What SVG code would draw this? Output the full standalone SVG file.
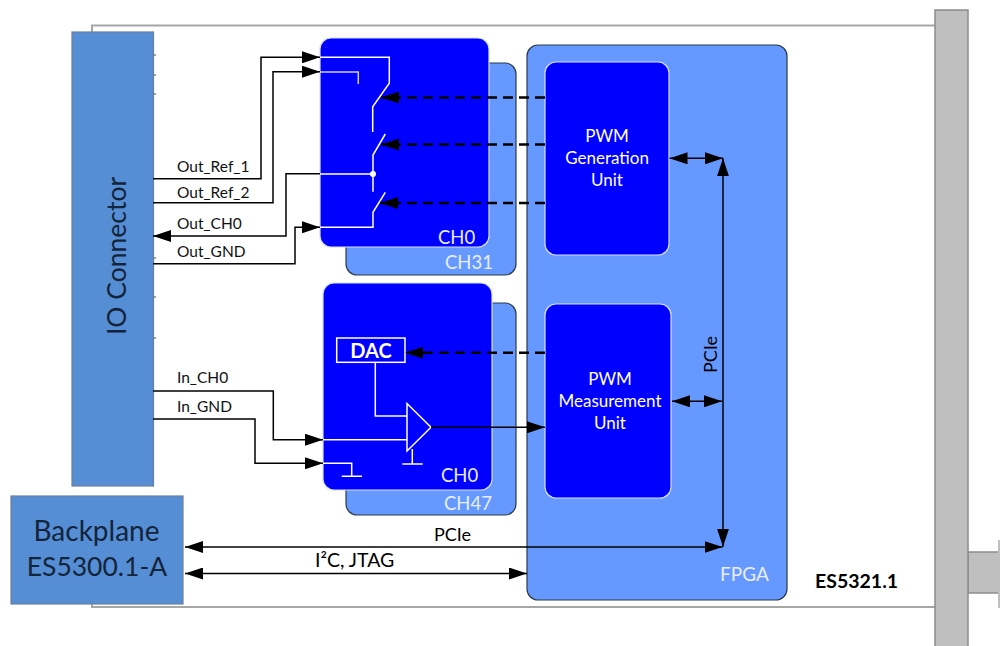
<svg xmlns="http://www.w3.org/2000/svg" width="1000" height="646" viewBox="0 0 1000 646">
<defs>
<marker id="ah" viewBox="0 0 18 12" refX="18" refY="6" markerWidth="18" markerHeight="12" markerUnits="userSpaceOnUse" orient="auto-start-reverse"><path d="M0 0L18 6L0 12Z" fill="#000"/></marker>
</defs>
<style>
text{font-family:"Lato","Open Sans","Liberation Sans",sans-serif}
.g{fill:#bfbfbf;stroke:#8c8c8c;stroke-width:1.5}
.lb{fill:#6699ff;stroke:#2b3a4a;stroke-width:1.2}
.db{fill:#0000ff;stroke:#d6e0ff;stroke-width:1.2}
.io{fill:#558ed5;stroke:#6b7f99;stroke-width:1.2}
.w{fill:none;stroke:#fff;stroke-width:1.5}
.k{fill:none;stroke:#000;stroke-width:1.5}
.d{fill:none;stroke:#000;stroke-width:2.5;stroke-dasharray:10 6}
.sig{font-size:15.500px;fill:#111}
.ch{font-size:18.500px;fill:#e8eeff}
.pwm{font-size:17px;fill:#fff;text-anchor:middle}
.big{fill:#14243a;text-anchor:middle}
.bus{font-size:18px;fill:#000}
</style>
<g id="board"><path d="M92 32V25.500H935M92 496V607H935" fill="#fff" stroke="#a6a6a6" stroke-width="2"/></g>
<g id="front-panel">
<rect class="g" x="968" y="552" width="33" height="41"/>
<rect class="g" x="935" y="10" width="33" height="640"/>
<path d="M999 540V608" stroke="#bfbfbf" stroke-width="2" fill="none"/>
</g>
<g id="io-ticks" stroke="#444" stroke-width="1.200" fill="none"><path d="M153 55h3M153 75h3M153 94h3M153 258h3M153 297h3M153 338h3"/></g>
<g id="io-connector"><rect class="io" x="72" y="32" width="81.500" height="454"/><text class="big" font-size="26.500" transform="translate(126 256) rotate(-90)">IO Connector</text></g>
<g id="backplane"><rect class="io" x="11" y="496" width="172" height="108"/><text class="big" font-size="28" x="96.500" y="541">Backplane</text><text class="big" font-size="26.500" x="97" y="576">ES5300.1-A</text></g>
<g id="ch31"><rect class="lb" x="346" y="63" width="170" height="212" rx="11"/><text class="ch" x="445" y="269">CH31</text></g>
<g id="ch0-out"><rect class="db" x="320" y="38" width="169" height="209" rx="11"/><text class="ch" x="438" y="244">CH0</text></g>
<g id="ch47"><rect class="lb" x="346" y="303" width="170" height="212" rx="11"/><text class="ch" x="444" y="510">CH47</text></g>
<g id="ch0-in"><rect class="db" x="323" y="283" width="169" height="207" rx="11"/><text class="ch" x="441" y="482">CH0</text></g>
<g id="fpga"><rect class="lb" x="527" y="45" width="260" height="555" rx="11"/><text x="720" y="581" font-size="19" fill="#e8eeff">FPGA</text></g>
<g id="pwm-generation"><rect class="db" x="545" y="62" width="124" height="193" rx="11"/><text class="pwm" x="607" y="142">PWM</text><text class="pwm" x="607" y="164">Generation</text><text class="pwm" x="607" y="186">Unit</text></g>
<g id="pwm-measurement"><rect class="db" x="545" y="304" width="126" height="194" rx="11"/><text class="pwm" x="610" y="385">PWM</text><text class="pwm" x="610" y="407">Measurement</text><text class="pwm" x="610" y="429">Unit</text></g>
<g id="dac"><rect x="336.700" y="338" width="68.300" height="24.300" fill="#0000ff" stroke="#fff" stroke-width="1.500"/><text x="371" y="357.500" font-size="20" font-weight="700" fill="#fff" text-anchor="middle">DAC</text></g>
<g id="connectors">
<path class="k" d="M153 178.700H261V57.300H320" marker-end="url(#ah)"/>
<path class="k" d="M153 202.700H273V71.700H320" marker-end="url(#ah)" stroke="#333"/>
<path class="k" d="M320 173.700H286V236H153" marker-end="url(#ah)"/>
<path class="k" d="M153 263.700H295V227.300H320" marker-end="url(#ah)"/>
<path class="k" d="M153 391H273.300V439.700H323" marker-end="url(#ah)"/>
<path class="k" d="M153 419H255V463.300H323" marker-end="url(#ah)"/>
<path class="w" d="M320 57.300H389.300V83.300L372.700 106.700V132"/>
<path class="w" d="M320 72H358.300V84" stroke-opacity=".8"/>
<path class="w" d="M385.300 134L373 155V191.700M320 174H373"/>
<circle cx="373" cy="174" r="3" fill="#fff"/>
<path class="w" d="M385.300 192.300L373 212.300V227.300H320"/>
<path class="d" d="M545 97.500H381" marker-end="url(#ah)"/>
<path class="d" d="M545 144.500H381" marker-end="url(#ah)"/>
<path class="d" d="M545 203H380" marker-end="url(#ah)"/>
<path class="d" d="M545 352.700H405" marker-end="url(#ah)"/>
<path class="w" d="M375.300 362.300V416H407M323 439.700H407M412.300 449V464M402.300 464H422.700M323 463.300H351.700V476.300M341.700 476.300H362"/>
<path d="M407 403.500L431 427.300L407 451Z" fill="#0000ff" stroke="#fff" stroke-width="1.500"/>
<path class="k" d="M431 427.300H545" stroke-width="1" marker-end="url(#ah)"/>
<path class="k" d="M669.500 158.300H723" marker-start="url(#ah)" marker-end="url(#ah)"/>
<path class="k" d="M672 401.300H722" marker-start="url(#ah)" marker-end="url(#ah)"/>
<path class="k" d="M723 158.300V546.700" stroke="#14243a" marker-start="url(#ah)" marker-end="url(#ah)"/>
<path class="k" d="M185 547H722.500" marker-start="url(#ah)" marker-end="url(#ah)"/>
<path class="k" d="M185 573.500H527" marker-start="url(#ah)" marker-end="url(#ah)"/>
</g>
<g id="labels">
<text class="sig" x="177" y="171.500">Out_Ref_1</text>
<text class="sig" x="177" y="197.500">Out_Ref_2</text>
<text class="sig" x="177" y="229">Out_CH0</text>
<text class="sig" x="177" y="257">Out_GND</text>
<text class="sig" x="177" y="383">In_CH0</text>
<text class="sig" x="177" y="412">In_GND</text>
<text class="bus" x="434" y="541">PCIe</text>
<text class="bus" font-size="19" style="font-size:19.500px" x="315" y="567">I²C, JTAG</text>
<text class="bus" transform="translate(717 373) rotate(-90)">PCIe</text>
<text x="815" y="588" font-size="19.500" font-weight="700" fill="#000">ES5321.1</text>
</g>
</svg>
